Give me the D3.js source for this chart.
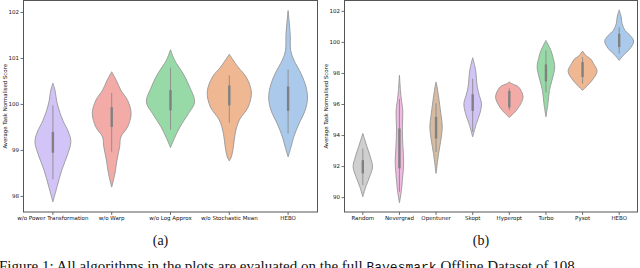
<!DOCTYPE html>
<html>
<head>
<meta charset="utf-8">
<script src="https://cdn.jsdelivr.net/npm/d3@7"></script>
<style>
    body { margin: 0; background: #fff; overflow: hidden; }
    svg { display: block; }
    .tick text { font-family: "DejaVu Sans", sans-serif; font-size: 5.5px; fill: #111; }
    .ylabel { font-family: "DejaVu Sans", sans-serif; font-size: 5.4px; fill: #111; }
    .sub { font-family: "Liberation Serif", serif; font-size: 14px; fill: #111; }
</style>
</head>
<body>
<svg id="chart" width="640" height="268"></svg>
<script>
// panel (a): ablation study
const ablationNames = ['w/o Power Transformation', 'w/o Warp', 'w/o Log Approx', 'w/o Stochastic Mean', 'HEBO'];
// [score, relative half-width]
const ablationShapes = [
    [[100.455, 0], [100.3, 0.07], [100.0, 0.15], [99.64, 0.34], [99.39, 0.53], [99.18, 0.61], [98.92, 0.51], [98.56, 0.30], [98.2, 0.14], [97.87, 0]],
    [[100.7, 0], [100.51, 0.16], [100.3, 0.31], [100.08, 0.54], [99.79, 0.66], [99.5, 0.54], [99.28, 0.31], [99.07, 0.27], [98.78, 0.18], [98.49, 0.11], [98.19, 0]],
    [[101.18, 0], [100.95, 0.14], [100.66, 0.43], [100.37, 0.65], [100.04, 0.82], [99.79, 0.61], [99.5, 0.32], [99.25, 0.13], [99.05, 0]],
    [[101.08, 0], [100.8, 0.30], [100.59, 0.57], [100.26, 0.75], [99.93, 0.64], [99.65, 0.34], [99.36, 0.20], [99.07, 0.14], [98.85, 0.07], [98.76, 0]],
    [[102.03, 0], [101.53, 0.07], [101.16, 0.09], [100.95, 0.20], [100.66, 0.44], [100.37, 0.61], [100.12, 0.66], [99.86, 0.58], [99.57, 0.37], [99.28, 0.19], [99.03, 0.085], [98.85, 0]]
];
const ablationQ1 = [98.94, 99.50, 99.86, 99.97, 99.85];
const ablationQ3 = [99.39, 99.93, 100.30, 100.40, 100.38];
const ablationLow = [98.36, 98.96, 99.44, 99.59, 99.36];
const ablationHigh = [99.97, 100.24, 100.79, 100.62, 100.75];
const ablationTicks = [98, 99, 100, 101, 102];

// panel (b): comparison with other optimisers
const optimiserNames = ['Random', 'Nevergrad', 'Opentuner', 'Skopt', 'Hyperopt', 'Turbo', 'Pysot', 'HEBO'];
const optimiserShapes = [
    [[94.1, 0], [93.24, 0.23], [92.59, 0.41], [91.95, 0.53], [91.31, 0.37], [90.66, 0.16], [90.02, 0]],
    [[97.85, 0], [96.88, 0.055], [96.24, 0.11], [95.6, 0.18], [94.31, 0.16], [93.24, 0.19], [92.38, 0.23], [91.74, 0.21], [91.09, 0.16], [90.45, 0.11], [89.63, 0]],
    [[97.42, 0], [97.1, 0.055], [96.45, 0.14], [95.38, 0.26], [94.52, 0.34], [93.67, 0.26], [92.81, 0.14], [91.53, 0]],
    [[98.98, 0], [98.17, 0.16], [97.1, 0.25], [96.56, 0.36], [96.03, 0.48], [95.38, 0.39], [94.74, 0.20], [93.88, 0]],
    [[97.42, 0], [97.3, 0.15], [97.1, 0.50], [96.45, 0.75], [95.77, 0.50], [95.38, 0.22], [95.13, 0]],
    [[100.1, 0], [99.45, 0.27], [99.02, 0.38], [98.38, 0.48], [97.53, 0.33], [96.88, 0.19], [96.03, 0.11], [95.17, 0]],
    [[99.41, 0], [99.1, 0.2], [98.92, 0.43], [98.6, 0.60], [98.12, 0.79], [97.63, 0.59], [97.2, 0.27], [96.88, 0]],
    [[102.07, 0], [101.6, 0.11], [101.17, 0.16], [100.74, 0.32], [100.42, 0.60], [100.05, 0.79], [99.56, 0.59], [99.13, 0.22], [98.81, 0]]
];
const optimiserQ1 = [91.53, 91.85, 93.78, 95.55, 95.77, 97.46, 97.74, 99.67];
const optimiserQ3 = [92.38, 94.42, 95.17, 96.63, 96.84, 98.55, 98.70, 100.53];
const optimiserLow = [90.77, 90.34, 92.91, 94.20, 95.60, 96.75, 97.31, 99.24];
const optimiserHigh = [93.13, 96.32, 96.05, 97.63, 97.01, 99.45, 99.02, 100.95];
const optimiserTicks = [90, 92, 94, 96, 98, 100, 102];

// seaborn pastel, toned down like violinplot does (saturation 0.75)
const pastel = ['#a1c9f4', '#ffb482', '#8de5a1', '#ff9f9b', '#d0bbff', '#debb9b', '#fab0e4', '#cfcfcf'];
function desaturate(c) {
    const hsl = d3.hsl(c);
    hsl.s *= 0.75;
    return hsl.formatHex();
}
const ablationColors = [4, 3, 2, 1, 0].map(i => desaturate(pastel[i]));
const optimiserColors = pastel.slice().reverse().map(desaturate);

const svg = d3.select('#chart');
const plotTop = 0.5;
const plotBottom = 212;

function drawPanel(p) {
    const x = d3.scaleBand()
        .domain(p.names)
        .range([p.left, p.right]);
    const y = d3.scaleLinear()
        .domain(p.domain)
        .range([plotBottom, plotTop]);
    const w = d3.scaleLinear()
        .domain([0, 1])
        .range([0, x.bandwidth() / 2]);
    const cx = i => x(p.names[i]) + x.bandwidth() / 2;
    const g = svg.append('g');

    const area = d3.area()
        .curve(d3.curveCatmullRom.alpha(0.5))
        .y(_ => y(_[0]));

    g.selectAll('path.violin')
        .data(p.shapes)
        .enter().append('path')
        .classed('violin', true)
        .attr('d', (s, i) => area.x0(_ => cx(i) - w(_[1])).x1(_ => cx(i) + w(_[1]))(s))
        .style('fill', (_, i) => p.colors[i])
        .style('stroke', '#969696')
        .style('stroke-width', 0.9);

    g.selectAll('line.whisker')
        .data(p.names)
        .enter().append('line')
        .attr('x1', (_, i) => cx(i))
        .attr('x2', (_, i) => cx(i))
        .attr('y1', (_, i) => y(p.low[i]))
        .attr('y2', (_, i) => y(p.high[i]))
        .style('stroke', '#8a8a8a')
        .style('stroke-width', 0.9);
    g.selectAll('line.box')
        .data(p.names)
        .enter().append('line')
        .attr('x1', (_, i) => cx(i))
        .attr('x2', (_, i) => cx(i))
        .attr('y1', (_, i) => y(p.q1[i]))
        .attr('y2', (_, i) => y(p.q3[i]))
        .style('stroke', '#808080')
        .style('stroke-width', 2.4);

    g.append('g')
        .attr('transform', `translate(${p.left},0)`)
        .call(d3.axisLeft(y).tickValues(p.ticks).tickFormat(d3.format('d')).tickSize(3).tickPadding(1.5))
        .call(a => a.select('.domain').remove())
        .call(a => a.selectAll('.tick line').style('stroke', '#333').style('stroke-width', 0.7));
    g.append('g')
        .attr('transform', `translate(0,${plotBottom})`)
        .call(d3.axisBottom(x).tickSize(3).tickPadding(1))
        .call(a => a.select('.domain').remove())
        .call(a => a.selectAll('.tick line').style('stroke', '#333').style('stroke-width', 0.7));

    g.append('rect')
        .attr('x', p.left)
        .attr('y', plotTop)
        .attr('width', p.right - p.left)
        .attr('height', plotBottom - plotTop)
        .style('fill', 'none')
        .style('stroke', '#555')
        .style('stroke-width', 1);

    g.append('text')
        .classed('ylabel', true)
        .attr('transform', `translate(${p.left - 17},${(plotTop + plotBottom) / 2}) rotate(-90)`)
        .attr('text-anchor', 'middle')
        .text('Average Task Normalised Score');

    g.append('text')
        .classed('sub', true)
        .attr('x', (p.left + p.right) / 2 - 10)
        .attr('y', 245)
        .attr('text-anchor', 'middle')
        .text(p.caption);
}

drawPanel({
    names: ablationNames, shapes: ablationShapes, colors: ablationColors,
    q1: ablationQ1, q3: ablationQ3, low: ablationLow, high: ablationHigh,
    ticks: ablationTicks, domain: [97.65, 102.25], left: 23.5, right: 317.5, caption: '(a)'
});
drawPanel({
    names: optimiserNames, shapes: optimiserShapes, colors: optimiserColors,
    q1: optimiserQ1, q3: optimiserQ3, low: optimiserLow, high: optimiserHigh,
    ticks: optimiserTicks, domain: [89.04, 102.67], left: 344.5, right: 637.5, caption: '(b)'
});

const caption = svg.append('text')
    .classed('sub', true)
    .attr('x', -1)
    .attr('y', 271)
    .style('font-size', '15px');
caption.append('tspan').text('Figure 1: All algorithms in the plots are evaluated on the full ');
caption.append('tspan').style('font-family', '"Liberation Mono", monospace').style('font-size', '13px').text('Bayesmark');
caption.append('tspan').text(' Offline Dataset of 108');
</script>
</body>
</html>
